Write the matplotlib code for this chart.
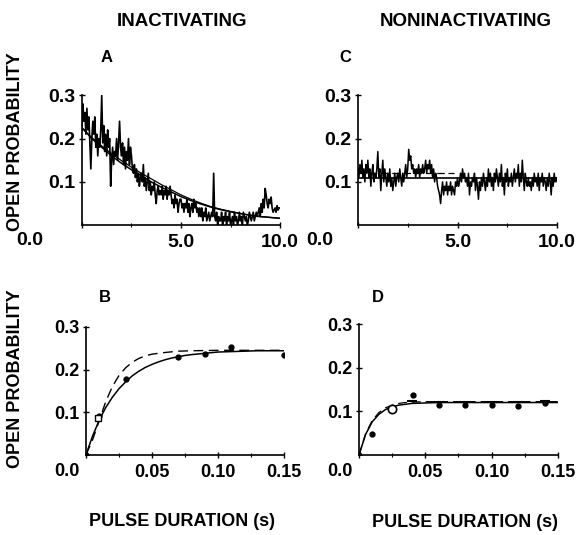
import numpy as np
import matplotlib
matplotlib.use("Agg")
import matplotlib.pyplot as plt
from matplotlib.ticker import FixedLocator

# --- panel A: inactivating trace (open probability vs time, s), sampled every 0.05 s
trace_a = [
    0.22, 0.28, 0.24, 0.26, 0.21, 0.27, 0.22, 0.25, 0.19, 0.13, 0.20, 0.24, 0.21, 0.25, 0.18, 0.21, 0.16, 0.20, 0.18, 0.22,
    0.30, 0.19, 0.23, 0.17, 0.21, 0.16, 0.22, 0.18, 0.20, 0.09, 0.15, 0.18, 0.14, 0.17, 0.16, 0.20, 0.15, 0.19, 0.24, 0.18,
    0.16, 0.19, 0.14, 0.18, 0.13, 0.17, 0.15, 0.20, 0.14, 0.18, 0.16, 0.13, 0.12, 0.14, 0.11, 0.13, 0.10, 0.12, 0.09, 0.11,
    0.12, 0.10, 0.14, 0.09, 0.11, 0.08, 0.10, 0.12, 0.08, 0.10, 0.07, 0.09, 0.08, 0.10, 0.07, 0.05, 0.08, 0.09, 0.07, 0.08,
    0.07, 0.09, 0.06, 0.08, 0.07, 0.09, 0.06, 0.08, 0.07, 0.09, 0.07, 0.05, 0.06, 0.04, 0.07, 0.05, 0.06, 0.03, 0.05, 0.06,
    0.06, 0.04, 0.05, 0.03, 0.05, 0.04, 0.06, 0.03, 0.05, 0.02, 0.04, 0.05, 0.03, 0.06, 0.04, 0.05, 0.03, 0.04, 0.02, 0.04,
    0.02, 0.04, 0.01, 0.03, 0.02, 0.04, 0.01, 0.02, 0.03, 0.01, 0.02, 0.03, 0.02, 0.12, 0.02, 0.01, 0.03, 0.00, 0.02, 0.01,
    0.01, 0.03, 0.00, 0.02, 0.01, 0.03, 0.00, 0.02, 0.01, 0.03, 0.00, 0.01, 0.02, 0.00, 0.03, 0.01, 0.02, 0.00, 0.01, 0.03,
    0.01, 0.02, 0.00, 0.03, 0.02, 0.01, 0.02, 0.00, 0.01, 0.03, 0.02, 0.01, 0.02, 0.03, 0.01, 0.02, 0.03, 0.02, 0.03, 0.04,
    0.02, 0.05, 0.03, 0.06, 0.04, 0.085, 0.07, 0.05, 0.04, 0.06, 0.05, 0.065, 0.04, 0.03, 0.035, 0.04, 0.03, 0.045, 0.035, 0.04,
    0.04,
]
fit_a_t = [0, 0.5, 1, 1.5, 2, 2.5, 3, 3.5, 4, 4.5, 5, 5.5, 6, 6.5, 7, 7.5, 8, 8.5, 9, 9.5, 10]
fit_a = [0.225, 0.200, 0.180, 0.160, 0.143, 0.128, 0.114, 0.100, 0.088, 0.077, 0.066,
         0.057, 0.049, 0.042, 0.036, 0.031, 0.027, 0.023, 0.020, 0.018, 0.016]
fit_a2 = [0.225, 0.202, 0.183, 0.165, 0.149, 0.134, 0.120, 0.107, 0.094, 0.082, 0.070,
          0.060, 0.051, 0.043, 0.037, 0.032, 0.027, 0.023, 0.020, 0.018, 0.016]

# --- panel C: noninactivating trace
trace_c = [
    0.13, 0.11, 0.14, 0.12, 0.15, 0.11, 0.13, 0.10, 0.14, 0.12, 0.15, 0.11, 0.13, 0.09, 0.12, 0.14, 0.10, 0.12, 0.11, 0.13,
    0.17, 0.11, 0.13, 0.08, 0.12, 0.15, 0.10, 0.13, 0.11, 0.09, 0.12, 0.10, 0.13, 0.09, 0.11, 0.08, 0.10, 0.12, 0.09, 0.11,
    0.12, 0.10, 0.13, 0.11, 0.09, 0.12, 0.10, 0.12, 0.14, 0.11, 0.13, 0.175, 0.15, 0.16, 0.13, 0.14, 0.12, 0.13, 0.11, 0.13,
    0.12, 0.14, 0.11, 0.13, 0.12, 0.14, 0.12, 0.13, 0.15, 0.12, 0.14, 0.13, 0.15, 0.12, 0.14, 0.11, 0.13, 0.10, 0.12, 0.11,
    0.09, 0.08, 0.07, 0.05, 0.08, 0.10, 0.07, 0.09, 0.08, 0.10, 0.07, 0.09, 0.08, 0.10, 0.07, 0.09, 0.08, 0.07, 0.10, 0.09,
    0.11, 0.09, 0.10, 0.12, 0.10, 0.13, 0.11, 0.12, 0.10, 0.11, 0.09, 0.12, 0.07, 0.10, 0.09, 0.11, 0.10, 0.12, 0.08, 0.11,
    0.09, 0.06, 0.10, 0.08, 0.11, 0.09, 0.12, 0.10, 0.08, 0.11, 0.09, 0.13, 0.10, 0.12, 0.09, 0.11, 0.08, 0.12, 0.10, 0.13,
    0.11, 0.09, 0.12, 0.10, 0.14, 0.09, 0.11, 0.07, 0.12, 0.10, 0.13, 0.09, 0.11, 0.10, 0.12, 0.09, 0.11, 0.13, 0.10, 0.12,
    0.11, 0.14, 0.09, 0.12, 0.10, 0.15, 0.11, 0.08, 0.12, 0.10, 0.09, 0.11, 0.09, 0.10, 0.08, 0.11, 0.09, 0.12, 0.10, 0.11,
    0.09, 0.12, 0.08, 0.11, 0.10, 0.12, 0.09, 0.11, 0.10, 0.08, 0.11, 0.09, 0.12, 0.10, 0.07, 0.11, 0.09, 0.12, 0.10, 0.11,
    0.10,
]
fit_c_t = [0, 10]
fit_c = [0.11, 0.11]
fit_c2_t = [0, 4.8]
fit_c2 = [0.12, 0.12]

# --- panel B: open probability vs pulse duration (inactivating)
pts_b_x = [0.0, 0.01, 0.03, 0.07, 0.09, 0.11, 0.15]
pts_b_y = [0.0, 0.092, 0.177, 0.229, 0.237, 0.252, 0.234]
open_b_x = [0.009]
open_b_y = [0.086]
fit_b_t = [0, 0.005, 0.01, 0.015, 0.02, 0.025, 0.03, 0.035, 0.04, 0.045, 0.05, 0.055,
           0.06, 0.065, 0.07, 0.075, 0.08, 0.09, 0.10, 0.11, 0.12, 0.13, 0.14, 0.15]
fit_b = [0.0, 0.044, 0.081, 0.111, 0.135, 0.155, 0.171, 0.185, 0.196, 0.205, 0.212, 0.218,
         0.223, 0.227, 0.230, 0.233, 0.235, 0.238, 0.241, 0.242, 0.243, 0.244, 0.244, 0.244]
dash_b_t = [0, 0.005, 0.01, 0.015, 0.02, 0.025, 0.03, 0.035, 0.04, 0.045, 0.05, 0.06,
            0.07, 0.08, 0.10, 0.15]
dash_b = [0.0, 0.035, 0.080, 0.125, 0.160, 0.186, 0.204, 0.217, 0.226, 0.232, 0.236, 0.240,
          0.243, 0.244, 0.245, 0.245]

# --- panel D: noninactivating
pts_d_x = [0.0, 0.0095, 0.041, 0.06, 0.08, 0.10, 0.12, 0.14]
pts_d_y = [0.0, 0.048, 0.137, 0.115, 0.115, 0.115, 0.111, 0.118]
open_d_x = [0.025]
open_d_y = [0.106]
bar_d_x = [0.04, 0.06, 0.08, 0.10, 0.12, 0.14]
bar_d_y = [0.123, 0.122, 0.122, 0.122, 0.122, 0.123]
fit_d_t = [0, 0.005, 0.01, 0.015, 0.02, 0.025, 0.03, 0.035, 0.04, 0.05, 0.06, 0.08, 0.10, 0.15]
fit_d = [0.0, 0.047, 0.076, 0.093, 0.104, 0.110, 0.114, 0.116, 0.118, 0.119, 0.120, 0.120, 0.120, 0.120]
dash_d = [0.0, 0.049, 0.079, 0.097, 0.108, 0.114, 0.118, 0.120, 0.121, 0.122, 0.122, 0.122, 0.122, 0.122]

plt.rcParams['font.family'] = ['Liberation Sans', 'DejaVu Sans']
plt.rcParams['font.weight'] = 'bold'

fig = plt.figure(figsize=(5.81, 5.35), dpi=100)

ax_a = fig.add_axes([0.141, 0.579, 0.341, 0.243])
ax_c = fig.add_axes([0.616, 0.579, 0.343, 0.243])
ax_b = fig.add_axes([0.148, 0.150, 0.341, 0.239])
ax_d = fig.add_axes([0.618, 0.150, 0.342, 0.244])


def style_axis(ax, xmax, xticks, xlabels, xminor, size, zero_dx, zero_dy):
    for side in ('top', 'right'):
        ax.spines[side].set_visible(False)
    for side in ('left', 'bottom'):
        ax.spines[side].set_linewidth(1.2)
    ax.set_ylim(0, 0.3)
    ax.set_xlim(0, xmax)
    ax.set_yticks([0.1, 0.2, 0.3])
    ax.set_yticklabels(['0.1', '0.2', '0.3'])
    ax.set_xticks(xticks)
    # the "0.0" label sits off to the left of the origin, drawn separately
    ax.set_xticklabels([''] + xlabels[1:])
    ax.xaxis.set_minor_locator(FixedLocator(xminor))
    ax.tick_params(axis='both', which='major', direction='inout', length=5, width=1,
                   labelsize=size)
    ax.tick_params(axis='y', pad=2)
    ax.tick_params(axis='x', pad=4)
    ax.tick_params(axis='x', which='minor', direction='inout', length=3, width=0.8)
    ax.annotate(xlabels[0], xy=(0, 0), xycoords='axes fraction',
                xytext=(zero_dx, zero_dy), textcoords='offset pixels',
                ha='center', va='center', fontsize=size, fontweight='bold')


# A
t_a = np.linspace(0, 10, len(trace_a))
ax_a.plot(t_a, trace_a, color='black', linewidth=1.2)
ax_a.plot(fit_a_t, fit_a2, color='black', linewidth=0.9)
ax_a.plot(fit_a_t, fit_a, color='black', linewidth=1.1)
style_axis(ax_a, 10, [0, 5, 10], ['0.0', '5.0', '10.0'], [2.5, 7.5], 14, -52, -15)

# C
t_c = np.linspace(0, 10, len(trace_c))
ax_c.plot(t_c, trace_c, color='black', linewidth=1.1)
ax_c.plot(fit_c_t, fit_c, color='black', linewidth=1.2)
ax_c.plot(fit_c2_t, fit_c2, color='black', linewidth=0.9, dashes=(6, 3))
style_axis(ax_c, 10, [0, 5, 10], ['0.0', '5.0', '10.0'], [2.5, 7.5], 14, -38, -15)

# B
ax_b.plot(fit_b_t, fit_b, color='black', linewidth=1.1)
ax_b.plot(dash_b_t, dash_b, color='black', linewidth=1.0, dashes=(7, 4))
ax_b.plot(pts_b_x, pts_b_y, 'o', color='black', markersize=3.5)
ax_b.plot(open_b_x, open_b_y, 's', markerfacecolor='white', markeredgecolor='black',
          markersize=4.5)
style_axis(ax_b, 0.15, [0, 0.05, 0.10, 0.15], ['0.0', '0.05', '0.10', '0.15'],
           [0.025, 0.075, 0.125], 13, -19, -17)

# D
ax_d.plot(fit_d_t, fit_d, color='black', linewidth=1.1)
ax_d.plot(fit_d_t, dash_d, color='black', linewidth=0.9, dashes=(7, 4))
ax_d.plot(pts_d_x, pts_d_y, 'o', color='black', markersize=3.5)
ax_d.plot(open_d_x, open_d_y, 'o', markerfacecolor='white', markeredgecolor='black',
          markersize=6, markeredgewidth=1.2)
ax_d.plot(bar_d_x, bar_d_y, '_', color='black', markersize=7, markeredgewidth=1.5)
style_axis(ax_d, 0.15, [0, 0.05, 0.10, 0.15], ['0.0', '0.05', '0.10', '0.15'],
           [0.025, 0.075, 0.125], 13, -19, -17)

# titles, panel letters and shared labels
fig.text(0.313, 0.959, 'INACTIVATING', ha='center', va='center', fontsize=13.5)
fig.text(0.802, 0.959, 'NONINACTIVATING', ha='center', va='center', fontsize=13.5)
fig.text(0.184, 0.892, 'A', ha='center', va='center', fontsize=12)
fig.text(0.594, 0.892, 'C', ha='center', va='center', fontsize=12)
fig.text(0.181, 0.443, 'B', ha='center', va='center', fontsize=12)
fig.text(0.651, 0.443, 'D', ha='center', va='center', fontsize=12)
fig.text(0.027, 0.735, 'OPEN PROBABILITY', rotation=90, ha='center', va='center',
         fontsize=13)
fig.text(0.027, 0.293, 'OPEN PROBABILITY', rotation=90, ha='center', va='center',
         fontsize=13)
fig.text(0.313, 0.026, 'PULSE DURATION (s)', ha='center', va='center', fontsize=13)
fig.text(0.800, 0.024, 'PULSE DURATION (s)', ha='center', va='center', fontsize=13)

fig.savefig('out.png', dpi=100)
